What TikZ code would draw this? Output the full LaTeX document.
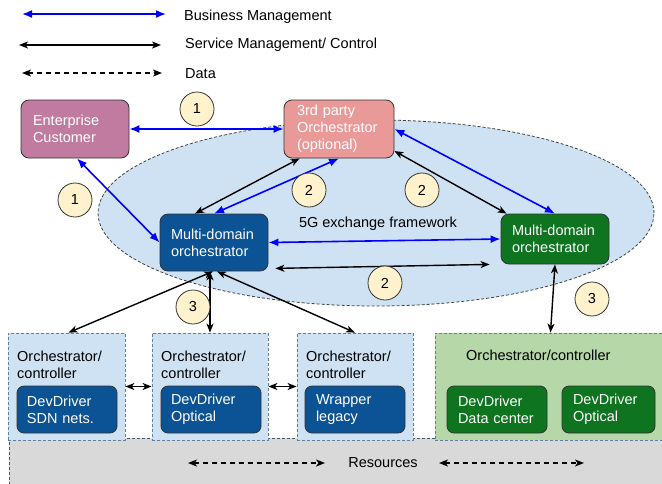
\documentclass[tikz,border=0pt]{standalone}
\usepackage{fontspec}
\setmainfont{Liberation Sans}
\usetikzlibrary{arrows.meta,shapes.geometric,calc}
\definecolor{bluefill}{HTML}{CFE2F3}
\definecolor{mauve}{HTML}{C27BA0}
\definecolor{salmon}{HTML}{EA9999}
\definecolor{dkblue}{HTML}{0B5394}
\definecolor{dkgreen}{RGB}{14,116,32}
\definecolor{ltgreen}{HTML}{B6D7A8}
\definecolor{graybg}{HTML}{D9D9D9}
\definecolor{yellowc}{HTML}{FFF2CC}
\definecolor{subborder}{HTML}{5F7FA0}
\definecolor{pureblue}{RGB}{0,0,255}
\begin{document}
\begin{tikzpicture}[x=1pt,y=-1pt,
  font=\fontsize{14.5}{17}\selectfont,
  mainbox/.style={rectangle, rounded corners=8pt, draw=black!80, line width=0.8pt, text=white, align=left, inner ysep=0pt},
  innerbox/.style={rectangle, rounded corners=7pt, draw=black!80, line width=0.8pt, text=white, align=left, inner ysep=0pt, minimum height=47pt},
  subbox/.style={rectangle, draw=subborder, dash pattern=on 3pt off 2pt, line width=0.8pt, inner sep=0pt, minimum height=107pt},
  hdr/.style={anchor=north west, inner sep=0pt, align=left, text=black},
  numc/.style={circle, draw=black!80, line width=0.8pt, fill=yellowc, minimum size=34pt, inner sep=0pt},
  blu/.style={draw=pureblue, line width=1.6pt, {Latex[length=10pt,width=8pt]}-{Latex[length=10pt,width=8pt]}},
  blk/.style={draw=black, line width=1.4pt, {Stealth[length=9pt,width=7pt,inset=2.5pt]}-{Stealth[length=9pt,width=7pt,inset=2.5pt]}},
  dat/.style={draw=black, line width=1.4pt, dash pattern=on 5pt off 4pt, {Stealth[length=9pt,width=7pt,inset=2.5pt]}-{Stealth[length=9pt,width=7pt,inset=2.5pt]}},
  lbl/.style={inner sep=0pt, text=black}
]
\useasboundingbox (0,0) rectangle (662,483);

% legend
\coordinate (la1) at (22,14);  \coordinate (la2) at (166,14);
\coordinate (lb1) at (19,45);  \coordinate (lb2) at (161,45);
\coordinate (lc1) at (22,73);  \coordinate (lc2) at (162,73);
\draw[blu] (la1) -- (la2);
\draw[blk] (lb1) -- (lb2);
\draw[dat] (lc1) -- (lc2);
\node[lbl, anchor=west] (lta) at (184,17) {Business Management};
\node[lbl, anchor=west] (ltb) at (185,45) {Service Management/ Control};
\node[lbl, anchor=west] (ltc) at (185,74) {Data};

% framework ellipse
\node[ellipse, draw=black!75, dash pattern=on 3pt off 2pt, line width=0.8pt, fill=bluefill,
      minimum width=556pt, minimum height=186pt, inner sep=0pt] (fw) at (376,213) {};
\node[lbl] (fwl) at (378,224) {5G exchange framework};

% resources area
\fill[graybg] (9,438) rectangle (670,490);
\draw[subborder!70!black, dash pattern=on 3pt off 2pt, line width=0.8pt] (9,490) -- (9,438) -- (670,438);

% lower domain boxes
\node[subbox, fill=bluefill, minimum width=117pt] (b1) at (66.5,386.5) {};
\node[subbox, fill=bluefill, minimum width=116pt] (b2) at (210,386.5) {};
\node[subbox, fill=bluefill, minimum width=116pt] (b3) at (355,386.5) {};
\node[subbox, fill=ltgreen, minimum width=235pt] (gb) at (552.5,386.5) {};

\node[hdr] (h1) at (17,351) {Orchestrator/\\controller};
\node[hdr] (h2) at (161,351) {Orchestrator/\\controller};
\node[hdr] (h3) at (306,351) {Orchestrator/\\controller};
\node[hdr] (h4) at (466,350) {Orchestrator/controller};

\node[innerbox, fill=dkblue, minimum width=100pt, text width=80pt, inner xsep=10pt] (d1) at (67,409.5) {DevDriver\\SDN nets.};
\node[innerbox, fill=dkblue, minimum width=100pt, text width=80pt, inner xsep=10pt] (d2) at (211,409.5) {DevDriver\\Optical};
\node[innerbox, fill=dkblue, minimum width=100pt, text width=78pt, inner xsep=11pt] (d3) at (355,409.5) {Wrapper\\legacy};
\node[innerbox, fill=dkgreen, minimum width=100pt, text width=78pt, inner xsep=11pt] (d4) at (497,409.5) {DevDriver\\Data center};
\node[innerbox, fill=dkgreen, minimum width=93pt, text width=71pt, inner xsep=11pt] (d5) at (608.5,409.5) {DevDriver\\Optical};

% main boxes
\node[mainbox, fill=mauve, minimum width=108pt, minimum height=58pt, text width=84pt, inner xsep=12pt] (ent) at (75,129) {Enterprise\\Customer};
\node[mainbox, fill=salmon, minimum width=110pt, minimum height=58pt, text width=84pt, inner xsep=13pt] (tp) at (339,129) {3rd party\\Orchestrator\\(optional)};
\node[mainbox, fill=dkblue, minimum width=108pt, minimum height=57pt, text width=86pt, inner xsep=11pt] (mdb) at (214,242.5) {Multi-domain\\orchestrator};
\node[mainbox, fill=dkgreen, minimum width=108pt, minimum height=50pt, text width=86pt, inner xsep=11pt] (mdg) at (555,239) {Multi-domain\\orchestrator};

% connectors
\draw[blu] (ent.east) -- (tp.west);
\draw[blu] ([xshift=2pt]ent.south) -- (mdb.west);
\draw[blk] ([xshift=16pt]tp.south west) -- ([xshift=-19pt]mdb.north);
\draw[blu] (tp.south) -- (mdb.north);
\draw[blu] (tp.east) -- (mdg.north);
\draw[blk] ([yshift=-22pt]tp.east) -- ([xshift=6pt]mdg.north west);
\draw[blu] (mdb.east) -- (mdg.west);
\draw[blk] ([shift={(7pt,3pt)}]mdb.south east) -- ([xshift=-11pt]mdg.south west);
\draw[blk] ([xshift=-1pt]mdb.south) -- ([xshift=2pt]b1.north);
\draw[blk] (b2.north |- mdb.south) -- (b2.north);
\draw[blk] ([xshift=3pt]mdb.south) -- (b3.north);
\draw[blk] (mdg.south) -- ([xshift=-2pt]gb.north);
\draw[blk] (b1.east) -- (b2.west);
\draw[blk] (b2.east) -- (b3.west);

% resources
\coordinate (ra1) at (188,463); \coordinate (ra2) at (325,463);
\coordinate (rb1) at (439,463); \coordinate (rb2) at (584,463);
\draw[dat] (ra1) -- (ra2);
\draw[dat] (rb1) -- (rb2);
\node[lbl] (res) at (383,463) {Resources};

% number circles
\node[numc] (c1a) at (197,109) {1};
\node[numc] (c1b) at (75,200) {1};
\node[numc] (c2a) at (309,190) {2};
\node[numc] (c2b) at (422,190) {2};
\node[numc] (c2c) at (385,283) {2};
\node[numc] (c3a) at (193,307) {3};
\node[numc] (c3b) at (592,299) {3};
\end{tikzpicture}
\end{document}
